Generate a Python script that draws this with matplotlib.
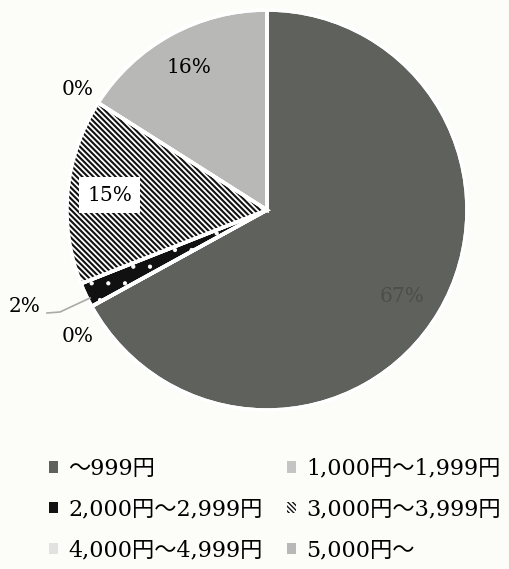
import matplotlib.pyplot as plt
from matplotlib.patches import Patch, Wedge
import numpy as np

plt.rcParams['font.family'] = ['DejaVu Serif', 'Noto Sans CJK JP']

# price bands and share (%)
labels = ["～999円", "1,000円～1,999円", "2,000円～2,999円",
          "3,000円～3,999円", "4,000円～4,999円", "5,000円～"]
shares = [67, 0, 2, 15, 0, 16]
colors = ["#5f615d", "#c4c4c2", "#111111", "#ffffff", "#e2e2e0", "#b8b9b6"]
STRIPES = "\\" * 6
hatches = [None, None, ".", STRIPES, None, None]
hatch_colors = [None, None, "#ffffff", "#111111", None, None]
hatch_lw = [None, None, 0.6, 1.5, None, None]

# label radius / small angle tweak for each slice text
label_r = [0.80, 1.14, 1.30, 0.79, 1.12, 0.815]
label_dang = [-2, 5, 0, 0, 0, 0]

bg = "#fcfcf8"
fig = plt.figure(figsize=(5.10, 5.69), dpi=100, facecolor=bg)
ax = fig.add_axes([67 / 510, 159 / 569, 400 / 510, 400 / 569])
ax.set_facecolor(bg)

wedges, _ = ax.pie(shares, colors=colors, startangle=90, counterclock=False,
                   wedgeprops=dict(edgecolor="white", linewidth=2.5))

# hatch layers on top of the plain wedges, then white borders again
for w, h, hc, hl in zip(wedges, hatches, hatch_colors, hatch_lw):
    if h:
        with plt.rc_context({"hatch.linewidth": hl}):
            ax.add_patch(Wedge(w.center, w.r, w.theta1, w.theta2, facecolor="none",
                               edgecolor=hc, hatch=h, linewidth=0))
for w in wedges:
    ax.add_patch(Wedge(w.center, w.r, w.theta1, w.theta2, facecolor="none",
                       edgecolor="white", linewidth=2.5))

fs = 14.5
for i, w in enumerate(wedges):
    ang = np.deg2rad((w.theta1 + w.theta2) / 2 + label_dang[i])
    x, y = label_r[i] * np.cos(ang), label_r[i] * np.sin(ang)
    txt = f"{shares[i]}%"
    if i == 0:
        ax.text(x, y, txt, ha="center", va="center", fontsize=fs, color="#4c4e4b")
    elif i == 2:
        ax.text(-1.21, -0.485, txt, ha="center", va="center", fontsize=fs)
        ax.plot([-1.10, -1.035, -0.885], [-0.515, -0.51, -0.44],
                color="#aaaaaa", lw=1.2, clip_on=False)
    elif i == 3:
        ax.text(x, y, txt, ha="center", va="center", fontsize=fs,
                bbox=dict(facecolor="white", edgecolor="none", pad=6))
    else:
        ax.text(x, y, txt, ha="center", va="center", fontsize=fs)

ax.set_xlim(-1, 1)
ax.set_ylim(-1, 1)
ax.set_aspect("equal")
ax.axis("off")

handles = []
for c, h in zip(colors, hatches):
    if h == STRIPES:
        with plt.rc_context({"hatch.linewidth": 1.3}):
            handles.append(Patch(facecolor="white", edgecolor="#111111",
                                 hatch="\\" * 7, linewidth=0))
    else:
        handles.append(Patch(facecolor=c, edgecolor="none"))
order = [0, 2, 4, 1, 3, 5]
fig.legend([handles[i] for i in order], [labels[i] for i in order],
           ncol=2, loc="center", bbox_to_anchor=(0.539, 0.104), frameon=False,
           fontsize=16, handlelength=0.4, handleheight=0.4,
           handletextpad=0.45, columnspacing=1.1, labelspacing=0.85)

fig.savefig("out.png", dpi=100, facecolor=bg)
